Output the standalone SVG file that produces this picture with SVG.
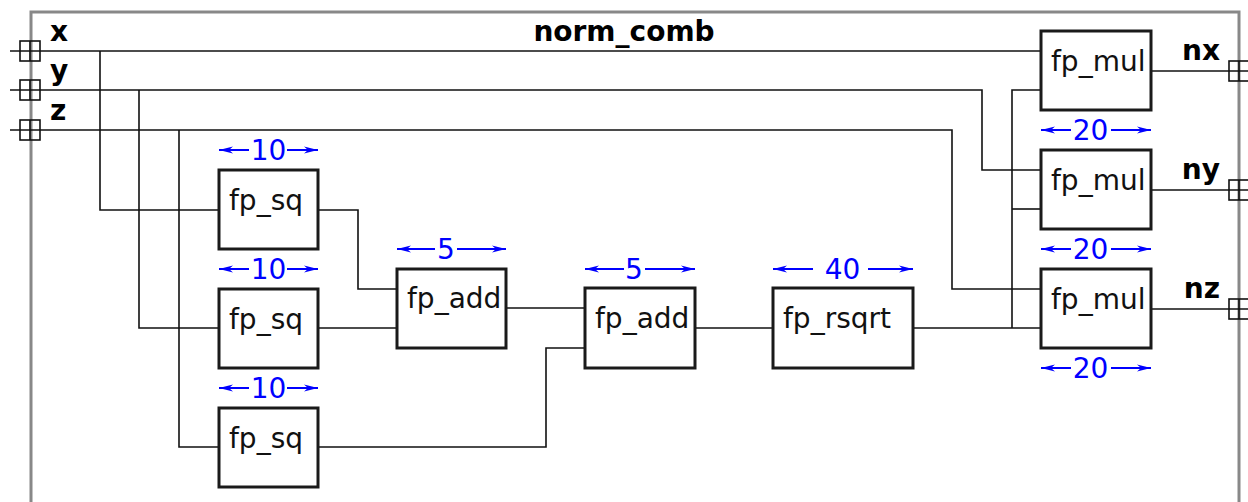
<svg xmlns="http://www.w3.org/2000/svg" width="1248" height="502" viewBox="0 0 1248 502">
<style>
.frame{fill:none;stroke:#888;stroke-width:3}
.box{fill:#fff;stroke:#1a1a1a;stroke-width:3}
.lbl{font-family:"DejaVu Sans",sans-serif;font-size:28px;fill:#111}
.title{font-family:"DejaVu Sans",sans-serif;font-size:28px;font-weight:bold;fill:#000}
.plbl{font-family:"DejaVu Sans",sans-serif;font-size:28px;font-weight:bold;fill:#000}
.lat{font-family:"DejaVu Sans",sans-serif;font-size:28px;fill:#0000ff;text-anchor:middle}
.latl{stroke:#0000ff;stroke-width:2;fill:none;marker-end:url(#ah)}
.wire{fill:none;stroke:#111;stroke-width:1.6}
.port{fill:none;stroke:#111;stroke-width:1.6}
</style>
<defs>
<marker id="ah" viewBox="0 0 14 8" refX="14" refY="4" markerWidth="14" markerHeight="8" markerUnits="userSpaceOnUse" orient="auto">
<path d="M0,0.5 L14,4 L0,7.5 L4,4 z" fill="#0000ff"/>
</marker>
</defs>
<rect width="1248" height="502" fill="#fff"/>
<rect class="frame" x="31" y="12" width="1208" height="510"/>
<text class="title" x="624" y="41" text-anchor="middle">norm_comb</text>

<g id="connectors">
<polyline class="wire" points="10,51 1041,51"/>
<polyline class="wire" points="100,51 100,210 219,210"/>
<polyline class="wire" points="10,90 982,90 982,170 1041,170"/>
<polyline class="wire" points="139,90 139,328 219,328"/>
<polyline class="wire" points="10,130 952,130 952,289 1041,289"/>
<polyline class="wire" points="179,130 179,447 219,447"/>
<polyline class="wire" points="318,210 358,210 358,289 397,289"/>
<polyline class="wire" points="318,328 397,328"/>
<polyline class="wire" points="506,308 585,308"/>
<polyline class="wire" points="318,447 546,447 546,348 585,348"/>
<polyline class="wire" points="695,328 773,328"/>
<polyline class="wire" points="913,328 1041,328"/>
<polyline class="wire" points="1012,328 1012,90 1041,90"/>
<polyline class="wire" points="1012,209 1041,209"/>
<polyline class="wire" points="1151,71 1248,71"/>
<polyline class="wire" points="1151,190 1248,190"/>
<polyline class="wire" points="1151,309 1248,309"/>
</g>

<g id="port_x">
<rect class="port" x="20" y="41" width="20" height="20"/>
<line class="port" x1="30" y1="41" x2="30" y2="61"/>
<text class="plbl" x="50" y="41">x</text>
</g>
<g id="port_y">
<rect class="port" x="20" y="80" width="20" height="20"/>
<line class="port" x1="30" y1="80" x2="30" y2="100"/>
<text class="plbl" x="50" y="80">y</text>
</g>
<g id="port_z">
<rect class="port" x="20" y="120" width="20" height="20"/>
<line class="port" x1="30" y1="120" x2="30" y2="140"/>
<text class="plbl" x="50" y="120">z</text>
</g>
<g id="port_nx">
<rect class="port" x="1229" y="61" width="20" height="20"/>
<line class="port" x1="1239" y1="61" x2="1239" y2="81"/>
<text class="plbl" x="1220" y="60" text-anchor="end">nx</text>
</g>
<g id="port_ny">
<rect class="port" x="1229" y="180" width="20" height="20"/>
<line class="port" x1="1239" y1="180" x2="1239" y2="200"/>
<text class="plbl" x="1220" y="179" text-anchor="end">ny</text>
</g>
<g id="port_nz">
<rect class="port" x="1229" y="299" width="20" height="20"/>
<line class="port" x1="1239" y1="299" x2="1239" y2="319"/>
<text class="plbl" x="1220" y="298" text-anchor="end">nz</text>
</g>

<g id="sq1">
<line class="latl" x1="249" y1="150" x2="219" y2="150"/>
<line class="latl" x1="287" y1="150" x2="318" y2="150"/>
<text class="lat" x="268.5" y="160">10</text>
<rect class="box" x="219" y="170" width="99" height="79"/>
<text class="lbl" x="229" y="210">fp_sq</text>
</g>
<g id="sq2">
<line class="latl" x1="249" y1="269" x2="219" y2="269"/>
<line class="latl" x1="287" y1="269" x2="318" y2="269"/>
<text class="lat" x="268.5" y="279">10</text>
<rect class="box" x="219" y="289" width="99" height="79"/>
<text class="lbl" x="229" y="329">fp_sq</text>
</g>
<g id="sq3">
<line class="latl" x1="249" y1="388" x2="219" y2="388"/>
<line class="latl" x1="287" y1="388" x2="318" y2="388"/>
<text class="lat" x="268.5" y="398">10</text>
<rect class="box" x="219" y="408" width="99" height="79"/>
<text class="lbl" x="229" y="448">fp_sq</text>
</g>
<g id="add1">
<line class="latl" x1="435" y1="249" x2="397" y2="249"/>
<line class="latl" x1="457" y1="249" x2="506" y2="249"/>
<text class="lat" x="446" y="259">5</text>
<rect class="box" x="397" y="269" width="109" height="79"/>
<text class="lbl" x="407" y="308">fp_add</text>
</g>
<g id="add2">
<line class="latl" x1="624" y1="269" x2="585" y2="269"/>
<line class="latl" x1="645" y1="269" x2="695" y2="269"/>
<text class="lat" x="634" y="279">5</text>
<rect class="box" x="585" y="288" width="110" height="80"/>
<text class="lbl" x="595" y="328">fp_add</text>
</g>
<g id="rsqrt">
<line class="latl" x1="813" y1="269" x2="773" y2="269"/>
<line class="latl" x1="868" y1="269" x2="913" y2="269"/>
<text class="lat" x="842.5" y="279">40</text>
<rect class="box" x="773" y="288" width="140" height="80"/>
<text class="lbl" x="783" y="328">fp_rsqrt</text>
</g>
<g id="mul1">
<rect class="box" x="1041" y="31" width="110" height="79"/>
<text class="lbl" x="1051" y="71">fp_mul</text>
<line class="latl" x1="1071" y1="130" x2="1041" y2="130"/>
<line class="latl" x1="1111" y1="130" x2="1151" y2="130"/>
<text class="lat" x="1090.5" y="140">20</text>
</g>
<g id="mul2">
<rect class="box" x="1041" y="150" width="110" height="79"/>
<text class="lbl" x="1051" y="190">fp_mul</text>
<line class="latl" x1="1071" y1="249" x2="1041" y2="249"/>
<line class="latl" x1="1111" y1="249" x2="1151" y2="249"/>
<text class="lat" x="1090.5" y="259">20</text>
</g>
<g id="mul3">
<rect class="box" x="1041" y="269" width="110" height="79"/>
<text class="lbl" x="1051" y="309">fp_mul</text>
<line class="latl" x1="1071" y1="368" x2="1041" y2="368"/>
<line class="latl" x1="1111" y1="368" x2="1151" y2="368"/>
<text class="lat" x="1090.5" y="378">20</text>
</g>
</svg>
